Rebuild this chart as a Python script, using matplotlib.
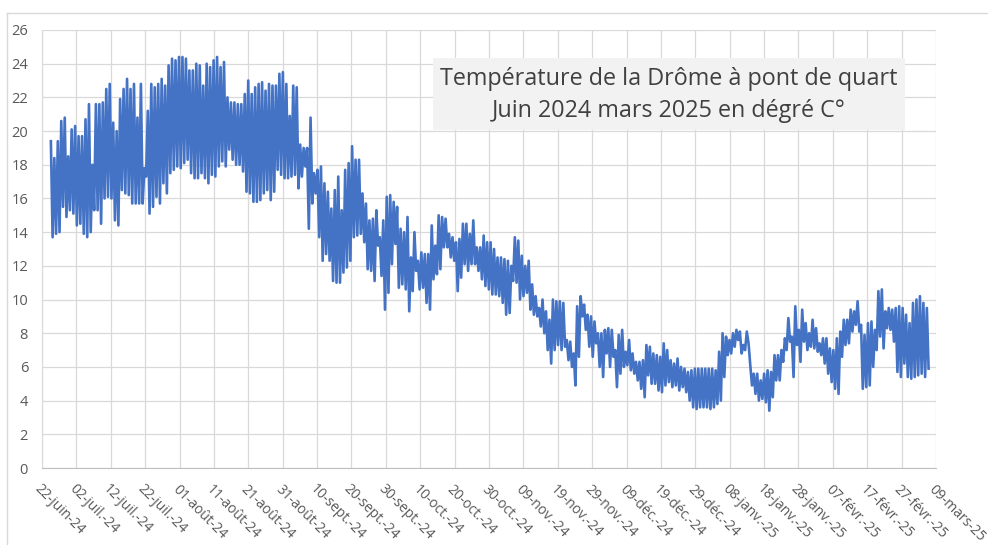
import numpy as np
import pandas as pd
import matplotlib
matplotlib.use('Agg')
import matplotlib.pyplot as plt
from matplotlib.patches import Rectangle
from matplotlib.lines import Line2D

# Daily max / min temperatures (°C), starting 24 June 2024
tmax = [
    # late June - July
    19.4, 18.4, 19.4, 20.6, 20.8, 18.5, 20.1, 20.3, 19.7, 19.7, 20.7, 21.6, 18.0, 21.6, 21.6, 21.7,
    22.5, 22.8, 20.5, 20.0, 21.9, 22.5, 23.1, 22.5, 22.8, 20.8, 22.8, 17.8, 21.2, 22.8, 22.6,
    # late July - August
    22.8, 23.1, 22.7, 23.9, 24.3, 24.2, 24.4, 24.4, 24.3, 23.6, 23.6, 24.0, 23.9, 22.7, 24.0, 23.8,
    24.2, 24.4, 23.8, 24.1, 22.0, 21.7, 21.7, 21.6, 21.6, 22.2, 23.0, 22.2, 22.6, 22.8, 22.9, 22.4,
    22.8, 22.7,
    # late August - September
    22.7, 23.4, 23.5, 22.8, 20.9, 22.7, 22.6, 19.2, 19.0, 19.0, 20.8, 17.5, 17.7, 17.9, 16.9, 16.4,
    15.4, 16.5, 17.3, 15.3, 17.7, 18.1, 19.1, 18.3, 18.3, 16.3, 15.7, 14.7, 14.8, 15.3, 13.7, 14.7,
    16.1,
    # October
    16.2, 15.8, 15.5, 14.2, 14.0, 14.9, 12.5, 14.0, 12.3, 12.8, 12.7, 12.7, 14.4, 13.2, 15.0, 14.9,
    14.8, 13.9, 13.7, 13.4, 13.6, 14.5, 14.5, 13.9, 14.7, 13.1, 13.1, 13.8, 13.4, 13.4, 13.0, 12.5,
    12.5,
    # November
    12.4, 12.3, 12.0, 13.7, 13.5, 12.6, 12.0, 12.3, 10.9, 10.2, 9.5, 10.0, 9.3, 8.8, 10.0, 9.9,
    9.9, 9.8, 7.6, 7.5, 6.8, 9.6, 10.2, 9.7, 9.1, 9.0, 8.7, 8.0, 8.0, 8.2, 8.3, 8.2, 7.0, 7.9,
    # December
    8.2, 6.9, 7.6, 6.8, 6.3, 6.3, 6.4, 7.3, 7.2, 6.8, 6.7, 6.6, 7.4, 7.0, 6.4, 6.2,
    6.5, 6.0, 5.9, 5.7, 5.8, 5.9, 5.9, 5.9, 5.9, 5.9, 5.9, 5.8, 6.9, 8.0, 7.8, 7.6, 8.0,
    # January
    8.2, 8.1, 7.3, 8.1, 6.1, 5.6, 5.6, 5.2, 5.6, 5.8, 5.7, 6.7, 6.7, 7.0, 7.7, 8.9,
    7.8, 9.6, 8.2, 9.4, 8.6, 8.0, 8.8, 8.3, 7.4, 7.7, 7.7, 7.1, 7.0, 7.7, 8.1, 8.8, 8.8,
    # February - March
    9.4, 9.3, 9.9, 8.5, 7.9, 8.6, 8.7, 8.2, 10.5, 10.6, 9.3, 9.5, 9.4, 9.5, 9.6, 9.5,
    9.1, 8.6, 9.8, 10.0, 10.2, 9.8, 9.5,
]
tmin = [
    13.7, 13.9, 14.0, 15.5, 14.9, 15.3, 15.1, 14.4, 14.5, 13.9, 13.7, 14.0, 15.3, 15.3, 14.5, 16.0,
    16.1, 16.0, 14.7, 14.4, 16.5, 16.3, 16.2, 15.7, 15.7, 15.7, 15.7, 17.3, 15.1, 15.5, 16.1,
    15.7, 16.9, 16.3, 17.5, 17.7, 17.9, 17.8, 18.1, 18.3, 17.5, 17.2, 17.2, 17.5, 17.2, 16.9, 17.4,
    17.3, 17.9, 18.2, 17.9, 18.9, 18.3, 18.0, 18.0, 17.6, 16.4, 16.3, 15.8, 15.8, 15.9, 16.3, 16.5,
    15.9, 16.4,
    17.7, 17.4, 17.2, 17.2, 17.3, 17.4, 16.6, 17.3, 17.9, 14.2, 15.7, 16.3, 13.7, 12.3, 12.7, 12.3,
    11.1, 11.0, 11.0, 11.6, 11.9, 12.3, 13.7, 13.8, 13.9, 13.4, 11.8, 11.7, 11.1, 13.2, 11.4, 9.4,
    10.4,
    12.1, 13.3, 10.7, 10.9, 10.6, 9.3, 10.5, 11.7, 10.6, 10.7, 9.8, 9.4, 11.2, 11.5, 11.8, 13.1,
    13.1, 12.5, 12.3, 10.5, 11.3, 12.1, 11.7, 12.1, 12.1, 11.7, 11.2, 10.8, 10.6, 10.3, 10.3, 10.2,
    9.8,
    9.1, 9.2, 11.1, 11.0, 10.0, 10.2, 10.4, 9.4, 9.1, 9.0, 8.4, 8.0, 7.0, 6.2, 7.0, 7.3,
    7.0, 7.2, 6.4, 6.0, 4.9, 6.6, 9.0, 8.2, 7.2, 6.6, 7.4, 6.0, 5.4, 6.8, 6.0, 6.6, 4.8, 5.6,
    6.0, 6.1, 5.8, 5.6, 5.2, 4.7, 4.2, 5.5, 5.0, 5.0, 4.6, 4.5, 4.9, 5.1, 4.8, 4.9,
    4.6, 4.8, 4.5, 4.0, 3.6, 3.5, 3.6, 3.6, 3.6, 3.5, 3.6, 3.8, 4.0, 5.4, 6.7, 6.8, 7.2,
    7.6, 6.8, 7.0, 7.4, 4.9, 4.4, 4.0, 4.1, 3.9, 3.4, 4.2, 5.2, 5.2, 6.3, 7.0, 7.5,
    5.4, 7.3, 6.3, 7.5, 7.0, 7.2, 7.1, 6.9, 6.7, 6.2, 5.6, 5.1, 4.7, 4.4, 6.6, 7.3, 7.4,
    8.1, 8.5, 8.1, 4.7, 4.8, 4.9, 6.0, 7.0, 7.8, 7.1, 8.3, 8.2, 7.5, 5.7, 5.4, 6.2,
    5.4, 5.3, 5.4, 5.5, 5.6, 5.4, 5.9,
]
start = '2024-06-24 14:00'
step = '725min'  # roughly half a day between a max and the next min

tick_labels = [
    '22-juin-24', '02-juil.-24', '12-juil.-24', '22-juil.-24', '01-août-24', '11-août-24',
    '21-août-24', '31-août-24', '10-sept.-24', '20-sept.-24', '30-sept.-24', '10-oct.-24',
    '20-oct.-24', '30-oct.-24', '09-nov.-24', '19-nov.-24', '29-nov.-24', '09-déc.-24',
    '19-déc.-24', '29-déc.-24', '08-janv.-25', '18-janv.-25', '28-janv.-25', '07-févr.-25',
    '17-févr.-25', '27-févr.-25', '09-mars-25',
]
y_ticks = list(range(0, 27, 2))
title_lines = ['Température de la Drôme à pont de quart', 'Juin 2024 mars 2025 en dégré C°']

plt.rcParams['font.family'] = ['Open Sans', 'DejaVu Sans']

# interleave max / min -> daily oscillation
n = len(tmax)
temps = np.empty(2 * n)
temps[0::2] = tmax
temps[1::2] = tmin
times = pd.date_range(start, periods=2 * n, freq=step)

W, H = 988, 545
fig = plt.figure(figsize=(W / 100, H / 100), dpi=100)
fig.patch.set_facecolor('white')
ax = fig.add_axes([42 / W, 77 / H, (936 - 42) / W, (468 - 30) / H])

ax.plot(times, temps, color='#4472C4', linewidth=1.9, zorder=3)

tick_dates = pd.date_range('2024-06-22', periods=len(tick_labels), freq='10D')
ax.set_xlim(tick_dates[0], tick_dates[-1])
ax.set_ylim(0, 26)
ax.set_yticks(y_ticks)
ax.set_xticks(tick_dates)
ax.set_xticklabels(tick_labels, rotation=-45, ha='left', va='top', rotation_mode='anchor')

ax.grid(True, color='#d9d9d9', linewidth=0.9, zorder=0)
ax.set_axisbelow(True)
ax.tick_params(length=0, colors='#595959', labelsize=10)
ax.tick_params(axis='y', pad=10, labelsize=10.5)
ax.tick_params(axis='x', pad=10)
for s in ['top', 'right']:
    ax.spines[s].set_visible(False)
ax.spines['left'].set_color('#d9d9d9')
ax.spines['bottom'].set_color('#bfbfbf')

# title box
fig.add_artist(Rectangle((433 / W, 1 - 130 / H), 472 / W, 72 / H, transform=fig.transFigure,
                         facecolor='#f2f2f2', edgecolor='none', zorder=5))
fig.text(669 / W, 1 - 79 / H, title_lines[0], ha='center', va='center',
         fontsize=16.8, color='#404040', zorder=6)
fig.text(669 / W, 1 - 111 / H, title_lines[1], ha='center', va='center',
         fontsize=16.8, color='#404040', zorder=6)

# outer chart border
fig.add_artist(Line2D([7 / W, 1], [1 - 13 / H] * 2, transform=fig.transFigure,
                      color='#d9d9d9', linewidth=1))
fig.add_artist(Line2D([7 / W] * 2, [0, 1 - 13 / H], transform=fig.transFigure,
                      color='#d9d9d9', linewidth=1))

fig.savefig('out.png', dpi=100, facecolor='white')
